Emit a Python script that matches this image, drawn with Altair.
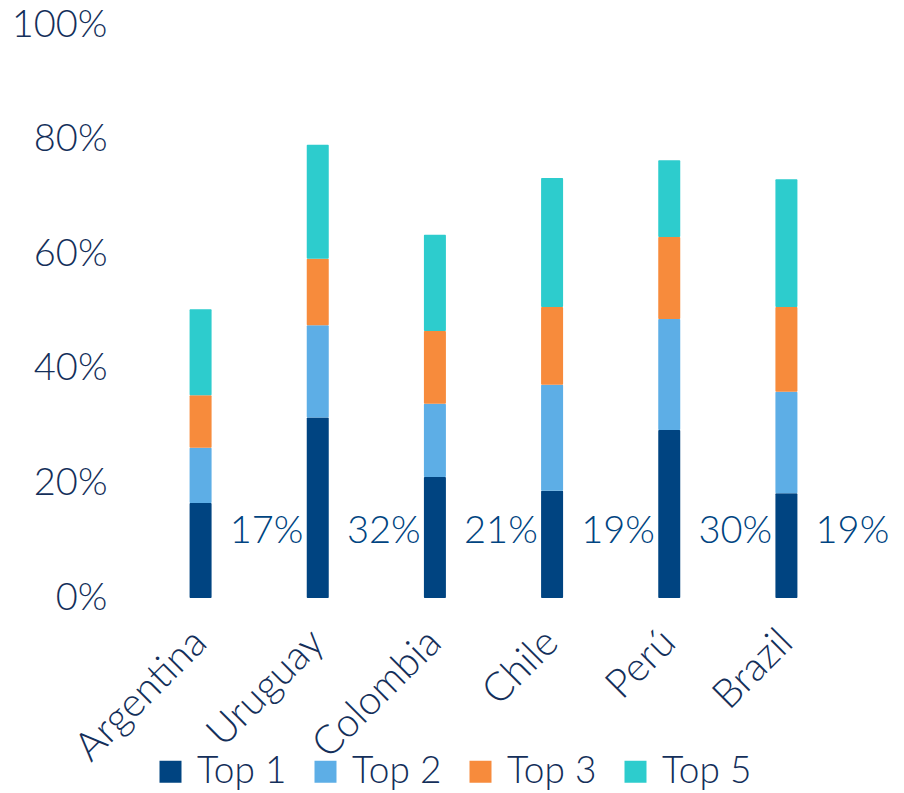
import altair as alt
import pandas as pd

countries = ["Argentina", "Uruguay", "Colombia", "Chile", "Perú", "Brazil"]
series = ["Top 1", "Top 2", "Top 3", "Top 5"]
top1 = [0.166, 0.315, 0.211, 0.187, 0.293, 0.183]
top2 = [0.262, 0.476, 0.339, 0.372, 0.487, 0.360]
top3 = [0.354, 0.592, 0.466, 0.508, 0.630, 0.508]
top5 = [0.504, 0.791, 0.634, 0.733, 0.764, 0.731]
labels = ["17%", "32%", "21%", "19%", "30%", "19%"]
colors = ["#004481", "#5DAEE6", "#F78B3C", "#2DCCCD"]

cums = [top1, top2, top3, top5]
rows = []
for i, c in enumerate(countries):
    prev = 0.0
    for s, cum in zip(series, cums):
        rows.append({"country": c, "series": s, "lo": prev, "hi": cum[i]})
        prev = cum[i]
df = pd.DataFrame(rows)
lab = pd.DataFrame({"country": countries, "label": labels})

FONT = "Lato"
TXT = "#142F5A"

x = alt.X("country:N", sort=countries, title=None,
          scale=alt.Scale(paddingInner=0, paddingOuter=0),
          axis=alt.Axis(labelAngle=-45, labelAlign="right", labelBaseline="middle",
                        labelPadding=38, domain=False, ticks=False, labelFontSize=40,
                        labelFont=FONT, labelColor=TXT, labelFontWeight=300))

bars = alt.Chart(df).mark_bar(width=22, cornerRadius=1).encode(
    x=x,
    y=alt.Y("hi:Q", scale=alt.Scale(domain=[0, 1]), title=None,
            axis=alt.Axis(values=[0, 0.2, 0.4, 0.6, 0.8, 1.0], format=".0%", grid=False,
                          domain=False, ticks=False, labelPadding=35, labelFontSize=38,
                          labelFont=FONT, labelColor=TXT, labelFontWeight=300)),
    y2="lo:Q",
    color=alt.Color("series:N", sort=series,
                    scale=alt.Scale(domain=series, range=colors),
                    legend=alt.Legend(title=None, orient="none", legendX=10, legendY=728,
                                      direction="horizontal", columns=4,
                                      symbolType="square", symbolSize=484,
                                      symbolStrokeWidth=0, labelFontSize=37,
                                      labelFont=FONT, labelColor=TXT, labelFontWeight=300,
                                      labelOffset=8, columnPadding=20)),
    order=alt.Order("series:N"),
)

texts = alt.Chart(lab).mark_text(dx=66, fontSize=38, font=FONT, fontWeight=300,
                                 color="#004481", baseline="middle", align="center").encode(
    x=alt.X("country:N", sort=countries),
    y=alt.datum(0.115),
    text="label:N",
)

chart = alt.layer(bars, texts).properties(
    width=703, height=573,
    background="white",
    autosize=alt.AutoSizeParams(type="none"),
    padding={"left": 142, "top": 25, "right": 59, "bottom": 195},
).configure_view(strokeWidth=0)

chart.save("out.html", embed_options={"renderer": "svg", "actions": False})
